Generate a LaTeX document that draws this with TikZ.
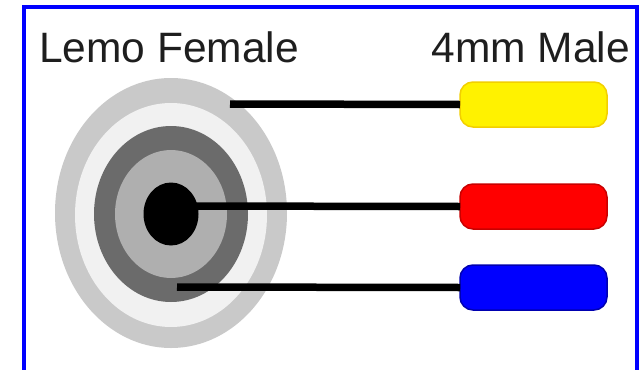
\documentclass[tikz,border=0pt]{standalone}
\usepackage{fontspec}
\setmainfont{Liberation Sans}
\usetikzlibrary{shapes.geometric}
\definecolor{textgray}{HTML}{1E1E1E}
\definecolor{ringouter}{HTML}{C9C9C9}
\definecolor{ringwhite}{HTML}{F1F1F1}
\definecolor{ringdark}{HTML}{6B6B6B}
\definecolor{ringmid}{HTML}{AFAFAF}
\definecolor{yellowedge}{HTML}{F2CF00}
\definecolor{rededge}{HTML}{C80000}
\definecolor{blueedge}{HTML}{0000B0}
\begin{document}
\begin{tikzpicture}[x=1pt,y=-1pt,
  plug/.style={rectangle, rounded corners=13pt, line width=1.5pt,
    minimum width=147pt, minimum height=45pt, inner sep=0pt, outer sep=0pt},
  ring/.style={ellipse, inner sep=0pt, outer sep=0pt},
  wire/.style={line width=7.5pt, black},
  heading/.style={font=\fontsize{42.5}{42.5}\selectfont, text=textgray, inner sep=0pt}]
\useasboundingbox (0,0) rectangle (641,370);
\fill[white] (0,0) rectangle (641,370);

% frame, open at the bottom
\draw[blue, line width=4pt] (24,380) -- (24,7) -- (636.5,7) -- (636.5,380);

% headings
\node[heading, anchor=base west] (lemo) at (39,62) {Lemo Female};
\node[heading, anchor=base east] (male) at (630,62) {4mm Male};

% Lemo socket: concentric rings
\node[ring, fill=ringouter, minimum width=232pt, minimum height=270pt] (outer) at (171,213) {};
\node[ring, fill=ringwhite, minimum width=192pt, minimum height=224pt] (insul) at (171,215) {};
\node[ring, fill=ringdark, minimum width=154pt, minimum height=176pt] (shell) at (171,214) {};
\node[ring, fill=ringmid, minimum width=112pt, minimum height=128pt] (inner) at (171,214) {};
\node[ring, fill=black, minimum width=55pt, minimum height=63pt] (pin) at (171,214) {};

% wire start points on the socket
\coordinate (tapOuter) at (230,104);
\coordinate (tapPin) at (171,206);
\coordinate (tapShell) at (177,287);

% 4mm plugs
\node[plug, fill=yellow, draw=yellowedge] (yellowplug) at (533.5,104.5) {};
\node[plug, fill=red, draw=rededge] (redplug) at (533.5,206.5) {};
\node[plug, fill=blue, draw=blueedge] (blueplug) at (533.5,287.5) {};

% wires
\draw[wire] (tapOuter) -- (yellowplug.west);
\draw[wire] (tapPin) -- (redplug.west);
\draw[wire] (tapShell) -- (blueplug.west);
\end{tikzpicture}
\end{document}
